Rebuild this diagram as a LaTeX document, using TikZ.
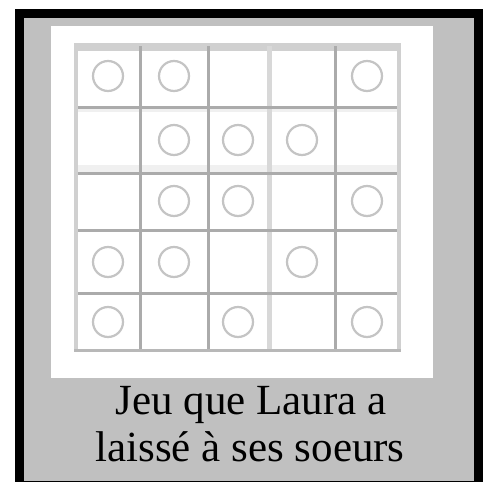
\documentclass[tikz,border=0pt]{standalone}
\usepackage{fontspec}
\setmainfont{Liberation Serif}
\definecolor{frameblack}{HTML}{000000}
\definecolor{panelgray}{HTML}{C0C0C0}
\definecolor{edgegray}{HTML}{D0D0D0}
\definecolor{lightline}{HTML}{D8D8D8}
\definecolor{darkline}{HTML}{ABABAB}
\definecolor{ringgray}{HTML}{C4C4C4}
\tikzset{
  edgeline/.style={draw=edgegray, line width=4pt},
  innerline/.style={draw=darkline, line width=3pt},
  paleline/.style={draw=lightline, line width=5pt},
  ring/.style={draw=ringgray, line width=2.2pt},
  caption/.style={font=\fontsize{43}{48}\selectfont, text=black, anchor=base, inner sep=0pt}
}
\begin{document}
\begin{tikzpicture}[x=1pt,y=-1pt]
\useasboundingbox (0,0) rectangle (490,482);
\fill[white] (0,0) rectangle (490,482);
% frame
\fill[frameblack] (15,9) rectangle (483,482);
\fill[panelgray] (24,18) rectangle (474,481);
\fill[white] (51,26) rectangle (433,378);
% grid
\fill[edgegray] (74,43) rectangle (401,51);
\fill[black!6] (77,108) rectangle (399,112);
\fill[black!6] (77,165) rectangle (399,172);
\draw[innerline] (140,46) -- (140,350);
\draw[innerline] (208,46) -- (208,350);
\draw[paleline] (269,46) -- (269,350);
\draw[innerline] (335,46) -- (335,350);
\draw[innerline] (77,107) -- (399,107);
\draw[innerline] (77,173) -- (399,173);
\draw[innerline] (77,230) -- (399,230);
\draw[innerline] (77,293) -- (399,293);
\draw[edgeline] (76,43) -- (76,351);
\draw[edgeline] (399,43) -- (399,351);
\draw[draw=black!28, line width=3pt] (74,350) -- (401,350);
% circles
\foreach \cx/\cy in {108/76, 174/76, 367/76,
                     174/140, 238/140, 302/140,
                     174/201, 238/201, 367/201,
                     108/262, 174/262, 302/262,
                     108/322, 238/322, 367/322}
  \draw[ring] (\cx,\cy) circle (15);
% caption
\node[caption] (line1) at (251,414) {Jeu que Laura a};
\node[caption] (line2) at (250,461) {laissé à ses soeurs};
\end{tikzpicture}
\end{document}
